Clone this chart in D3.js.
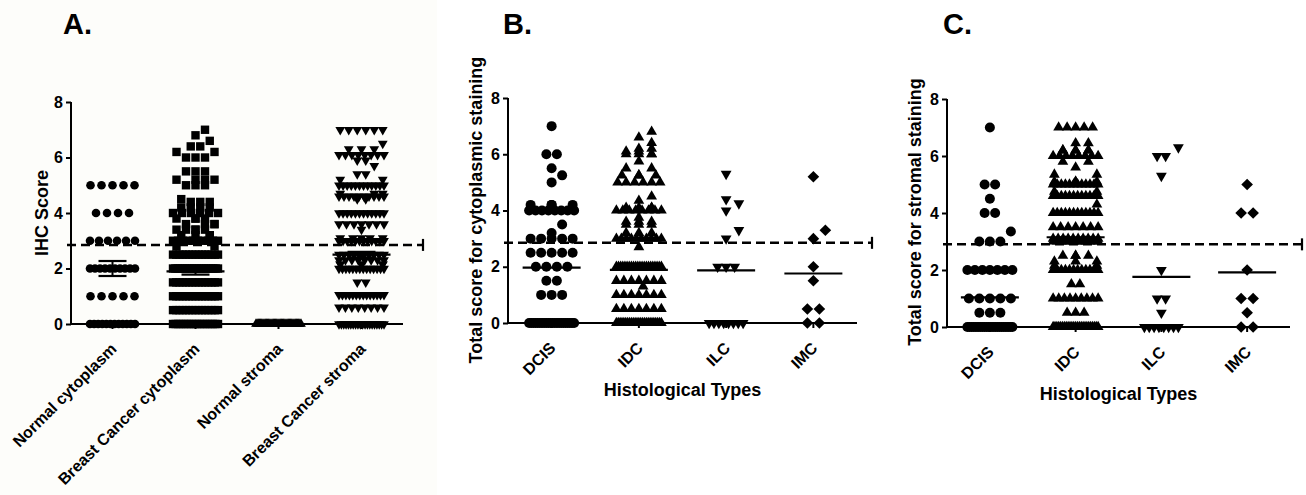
<!DOCTYPE html>
<html>
<head>
<meta charset="utf-8">
<script src="https://cdn.jsdelivr.net/npm/d3@7"></script>
<style>
  body { margin: 0; background: #fff; }
  svg { display: block; font-family: "Liberation Sans", Arial, sans-serif; font-weight: bold; }
</style>
</head>
<body>
<svg id="chart" width="1306" height="495"></svg>
<script>
// categories
const catsA = ["Normal cytoplasm", "Breast Cancer cytoplasm", "Normal stroma", "Breast Cancer stroma"];
const catsBC = ["DCIS", "IDC", "ILC", "IMC"];
const yTicks = [0, 2, 4, 6, 8];

// panel A: [score, number of samples]
const normCyto = [[0, 12], [1, 5], [2, 10], [3, 6], [4, 4], [5, 5]];
const bcCyto = [[0, 18], [0.5, 15], [1, 15], [1.5, 15], [2, 20], [2.5, 15], [2.8, 2], [3, 10], [3.2, 4], [3.4, 5],
  [3.6, 4], [3.8, 4], [4, 6], [4.2, 4], [4.4, 3], [4.5, 1], [5, 3], [5.2, 4], [5.5, 3], [6, 3], [6.2, 2], [6.4, 2],
  [6.6, 1], [6.8, 1], [7, 1]];
const normStroma = [[0, 40]];
const bcStroma = [[0, 20], [0.6, 8], [1.05, 14], [1.5, 2], [2, 14], [2.15, 6], [2.3, 8], [2.5, 10], [3, 12], [3.1, 5],
  [3.4, 1], [3.6, 7], [4, 12], [4.5, 2], [4.6, 10], [4.7, 3], [5, 12], [5.2, 2], [5.4, 2], [5.7, 1], [5.9, 2],
  [6.1, 8], [6.3, 3], [6.5, 1], [7, 6]];
const meansA = [2.0, 1.9, 0, 2.5];
const semsA = [0.27, 0.12, 0, 0.1];
const cutA = 2.85;

// panel B: cytoplasmic staining
const dcisB = [[0, 22], [1, 3], [1.5, 2], [2, 4], [2.5, 5], [3, 5], [3.2, 1], [3.5, 1], [4, 8], [4.2, 4], [5, 1],
  [5.25, 1], [5.5, 1], [6, 2], [7, 1]];
const idcB = [[0, 25], [0.5, 7], [1, 7], [1.3, 1], [1.5, 7], [2, 22], [2.7, 1], [3, 10], [3.2, 3], [3.5, 3], [3.6, 3],
  [3.75, 1], [4, 8], [4.1, 4], [4.35, 1], [4.5, 1], [5, 6], [5.25, 4], [5.5, 2], [5.75, 1], [6, 4], [6.1, 2],
  [6.2, 2], [6.4, 1], [6.6, 1], [6.8, 1]];
const ilcB = [[0, 8], [2, 3], [3, 1], [3.3, 1], [4, 1], [4.25, 1], [4.4, 1], [5.3, 1]];
const imcB = [[0, 2], [0.5, 2], [1.5, 1], [2, 1], [3, 1], [3.3, 1], [5.2, 1]];
const meansB = [1.97, 1.89, 1.87, 1.76];
const cutB = 2.85;

// panel C: stromal staining
const dcisC = [[0, 22], [0.5, 3], [1, 5], [2, 7], [3, 3], [3.35, 1], [4, 2], [4.5, 1], [5, 2], [7, 1]];
const idcC = [[0, 25], [0.5, 3], [1, 9], [1.5, 2], [2, 12], [2.15, 2], [2.3, 3], [2.5, 4], [3, 12], [3.1, 10],
  [3.5, 7], [4, 12], [4.3, 1], [4.6, 12], [4.75, 2], [5, 12], [5.1, 4], [5.35, 2], [5.6, 1], [5.8, 2], [6, 8],
  [6.2, 6], [6.45, 2], [7, 5]];
const ilcC = [[0, 8], [0.5, 1], [1, 2], [2, 1], [5.3, 1], [6, 2], [6.3, 1]];
const imcC = [[0, 2], [0.5, 1], [1, 2], [2, 1], [4, 2], [5, 1]];
const meansC = [1.04, 3.15, 1.76, 1.92];
const cutC = 2.9;

const svg = d3.select("#chart");

// very faint tint of panel A, as in the scan
svg.append("rect").attr("x", 0).attr("y", 0).attr("width", 437).attr("height", 495).attr("fill", "#fdfdfa");

const panels = [
  { title: "A.", tx: 63, x0: 71, x1: 403, yTop: 102, yBot: 324, capX: 423, cats: catsA,
    groups: [normCyto, bcCyto, normStroma, bcStroma], shapes: ["circle", "square", "triangle", "triangleDown"],
    means: meansA, sems: semsA, cut: cutA, ylabel: "IHC Score", ylx: 48, yly: 213, small: true },
  { title: "B.", tx: 503, x0: 508, x1: 857, yTop: 98, yBot: 323, capX: 872, cats: catsBC,
    groups: [dcisB, idcB, ilcB, imcB], shapes: ["circle", "triangle", "triangleDown", "diamond"],
    means: meansB, sems: [0, 0, 0, 0], cut: cutB, ylabel: "Total score for cytoplasmic staining",
    ylx: 482, yly: 210, xtitle: "Histological Types", xty: 396 },
  { title: "C.", tx: 943, x0: 947, x1: 1290, yTop: 99, yBot: 327, capX: 1302, cats: catsBC,
    groups: [dcisC, idcC, ilcC, imcC], shapes: ["circle", "triangle", "triangleDown", "diamond"],
    means: meansC, sems: [0, 0, 0, 0], cut: cutC, ylabel: "Total score for stromal staining",
    ylx: 921, yly: 212, xtitle: "Histological Types", xty: 400 }
];

// GraphPad-like column scatter: same-value rows centred, close values pushed sideways
function layout(rows, y, step, size, maxHalf) {
  const placed = [];
  const hits = (dx, py) => placed.filter(p => Math.abs(p.y - py) < size * 1.15 && Math.abs(p.dx - dx) < size * 0.95).length;
  rows.slice().sort((a, b) => a[0] - b[0]).forEach(([v, n]) => {
    const py = y(v);
    let sp = step;
    if (n > 1 && step * (n - 1) > 2 * maxHalf) sp = (2 * maxHalf) / (n - 1);
    const row = d3.range(n).map(i => (i - (n - 1) / 2) * sp);
    if (sp < step || row.every(dx => hits(dx, py) === 0)) {
      row.forEach(dx => placed.push({ v, y: py, dx }));
    } else {
      const cands = [0];
      for (let k = 1; (k * step) / 2 <= maxHalf; k++) cands.push((k * step) / 2, (-k * step) / 2);
      for (let i = 0; i < n; i++) {
        let best = 0, bestHits = Infinity;
        for (const dx of cands) {
          const h = hits(dx, py);
          if (h < bestHits) { best = dx; bestHits = h; if (h === 0) break; }
        }
        placed.push({ v, y: py, dx: best });
      }
    }
  });
  return placed;
}

function symbolPath(shape, small) {
  const s = small ? 8.6 : 10;
  if (shape === "circle") return d3.symbol(d3.symbolCircle, Math.PI * (s / 2) * (s / 2))();
  if (shape === "square") return d3.symbol(d3.symbolSquare, 8.4 * 8.4)();
  if (shape === "diamond") return d3.symbol(d3.symbolSquare, 8.2 * 8.2)();
  const side = small ? 9.8 : 10.8;
  return d3.symbol(d3.symbolTriangle, (Math.sqrt(3) / 4) * side * side)();
}

panels.forEach(p => {
  const g = svg.append("g");
  const y = d3.scaleLinear().domain([0, 8]).range([p.yBot, p.yTop]);
  const x = d3.scaleBand().domain(p.cats).range([p.x0, p.x1]).padding(0);

  g.append("text").attr("x", p.tx).attr("y", 34).attr("font-size", 29).text(p.title);

  // markers
  p.groups.forEach((rows, i) => {
    const shape = p.shapes[i];
    const cx = x(p.cats[i]) + x.bandwidth() / 2;
    const step = shape === "circle" ? (p.small ? 11 : 10.5) : shape === "diamond" ? 12 : shape === "square" ? 9.5 : 8.5;
    const size = p.small ? 8.5 : 9.5;
    const maxHalf = shape === "triangleDown" && !p.small ? 17 : 22.5;
    const pts = layout(rows, y, step, size, maxHalf);
    const path = symbolPath(shape, p.small);
    g.selectAll(null).data(pts).enter().append("path")
      .attr("d", path)
      .attr("fill", "#000")
      .attr("transform", d => {
        let t = "translate(" + (cx + d.dx) + "," + d.y + ")";
        if (shape === "triangleDown") t += " rotate(180)";
        if (shape === "diamond") t += " rotate(45)";
        return t;
      });

    // mean line and SEM
    const m = y(p.means[i]);
    const half = p.small && i === 0 ? 26 : 29;
    g.append("line").attr("x1", cx - half).attr("x2", cx + half).attr("y1", m).attr("y2", m)
      .attr("stroke", "#000").attr("stroke-width", 2.2);
    if (p.sems[i] > 0) {
      const hi = y(p.means[i] + p.sems[i]), lo = y(p.means[i] - p.sems[i]);
      g.append("line").attr("x1", cx).attr("x2", cx).attr("y1", hi).attr("y2", lo)
        .attr("stroke", "#000").attr("stroke-width", 2);
      [hi, lo].forEach(yy => g.append("line").attr("x1", cx - 14).attr("x2", cx + 14)
        .attr("y1", yy).attr("y2", yy).attr("stroke", "#000").attr("stroke-width", 2.2));
    }
  });

  // y axis
  const ya = g.append("g").attr("transform", "translate(" + p.x0 + ",0)")
    .call(d3.axisLeft(y).tickValues(yTicks).tickSize(5).tickPadding(3).tickFormat(d3.format("d")));
  ya.select(".domain").attr("stroke-width", 2).attr("d", "M0," + p.yTop + "V" + p.yBot);
  ya.selectAll(".tick line").attr("stroke-width", 2);
  ya.selectAll(".tick text").attr("font-size", 16).attr("font-weight", "bold")
    .attr("font-family", "'Liberation Sans', Arial, sans-serif").attr("fill", "#000");

  // x axis with rotated category labels
  const xa = g.append("g").attr("transform", "translate(0," + p.yBot + ")")
    .call(d3.axisBottom(x).tickSize(5).tickFormat(""));
  xa.select(".domain").attr("stroke-width", 2).attr("d", "M" + p.x0 + ",0H" + p.x1);
  xa.selectAll(".tick line").attr("stroke-width", 2);
  g.selectAll(null).data(p.cats).enter().append("text")
    .attr("transform", d => "translate(" + (x(d) + x.bandwidth() / 2 + 5) + "," + (p.yBot + 26) + ") rotate(-45)")
    .attr("text-anchor", "end").attr("font-size", 16).text(d => d);

  // cut-off line
  const cy = y(p.cut);
  g.append("line").attr("x1", p.x0 - 4).attr("x2", p.capX).attr("y1", cy).attr("y2", cy)
    .attr("stroke", "#000").attr("stroke-width", 2.5).attr("stroke-dasharray", "9,5");
  g.append("line").attr("x1", p.capX).attr("x2", p.capX).attr("y1", cy - 6).attr("y2", cy + 6)
    .attr("stroke", "#000").attr("stroke-width", 2.2);

  // axis titles
  g.append("text").attr("transform", "translate(" + p.ylx + "," + p.yly + ") rotate(-90)")
    .attr("text-anchor", "middle").attr("font-size", 18).text(p.ylabel);
  if (p.xtitle) {
    g.append("text").attr("x", (p.x0 + p.x1) / 2).attr("y", p.xty)
      .attr("text-anchor", "middle").attr("font-size", 18).text(p.xtitle);
  }
});
</script>
</body>
</html>
